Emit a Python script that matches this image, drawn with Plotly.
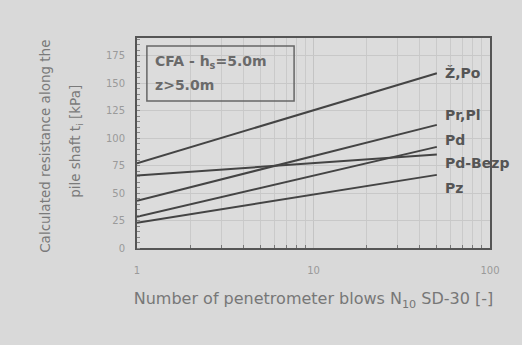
import plotly.graph_objects as go

# Data: straight lines on log-x, from N=1 to N=50
n_blows = [1, 50]
series_names = ["Ž,Po", "Pr,Pl", "Pd", "Pd-Bezp", "Pz"]
zpo = [77, 159]
prpl = [43, 112]
pd_ = [28.5, 92]
pd_bezp = [66, 85]
pz = [23, 66.5]
series_values = [zpo, prpl, pd_, pd_bezp, pz]

# vertical positions of the series labels (kPa scale)
label_y = [159, 121, 98, 77, 55]

y_ticks = [0, 25, 50, 75, 100, 125, 150, 175]
x_ticks = [1, 10, 100]
x_minor = [2, 3, 4, 5, 6, 7, 8, 9, 20, 30, 40, 50, 60, 70, 80, 90]

line_col = "#444444"
txt_col = "#555555"
bg = "#d9d9d9"

fig = go.Figure()
for name, vals, ly in zip(series_names, series_values, label_y):
    fig.add_trace(go.Scatter(x=n_blows, y=vals, mode="lines", name=name,
                             line=dict(color=line_col, width=2), showlegend=False,
                             cliponaxis=False))
    fig.add_annotation(x=1.72, y=ly, xref="x", yref="y", text="<b>" + name + "</b>",
                       showarrow=False, xanchor="left", yanchor="middle",
                       xshift=2,
                       font=dict(family="DejaVu Sans", size=14, color=txt_col))

# info box
fig.add_shape(type="rect", xref="paper", yref="paper", x0=0.028, x1=0.445, y0=0.70, y1=0.962,
              line=dict(color="#666", width=1.5), fillcolor="rgba(0,0,0,0)")
fig.add_annotation(xref="paper", yref="paper", x=0.045, y=0.886, xanchor="left", yanchor="middle",
                   text="<b>CFA - h<sub>s</sub>=5.0m</b>", showarrow=False,
                   font=dict(family="DejaVu Sans", size=14, color="#6a6a6a"))
fig.add_annotation(xref="paper", yref="paper", x=0.045, y=0.776, xanchor="left", yanchor="middle",
                   text="<b>z>5.0m</b>", showarrow=False,
                   font=dict(family="DejaVu Sans", size=14, color="#6a6a6a"))

# y title (two lines)
fig.add_annotation(xref="paper", yref="paper", x=-0.261, y=0.486,
                   xanchor="center", yanchor="middle",
                   text="Calculated resistance along the", textangle=-90,
                   showarrow=False, font=dict(family="DejaVu Sans", size=13.5, color="#7a7a7a"))
fig.add_annotation(xref="paper", yref="paper", x=-0.173, y=0.51,
                   xanchor="center", yanchor="middle",
                   text="pile shaft t<sub>i</sub> [kPa]", textangle=-90,
                   showarrow=False, font=dict(family="DejaVu Sans", size=13.5, color="#7a7a7a"))

fig.update_layout(
    width=522, height=345,
    margin=dict(l=137, r=32, t=38, b=97),
    paper_bgcolor=bg, plot_bgcolor="#dcdcdc",
    xaxis=dict(type="log", range=[0, 2], tickvals=x_ticks, ticktext=["1", "10", "100"],
               showline=True, linecolor="#555", linewidth=2, mirror=True,
               showgrid=True, gridcolor="#c4c4c4", gridwidth=1,
               minor=dict(tickvals=x_minor, showgrid=True, gridcolor="#cacaca",
                          ticks="inside", ticklen=3, tickcolor="#777"),
               ticks="", ticklabelstandoff=12,
               tickfont=dict(family="DejaVu Sans", size=10, color="#9a9a9a"),
               title=dict(text="Number of penetrometer blows N<sub>10</sub> SD-30 [-]", standoff=18,
                          font=dict(family="DejaVu Sans", size=16, color="#777")),
               zeroline=False),
    yaxis=dict(range=[0, 191], tickvals=y_ticks,
               showline=True, linecolor="#555", linewidth=2, mirror=True,
               showgrid=True, gridcolor="#c8c8c8", gridwidth=1,
               minor=dict(dtick=5, ticks="inside", ticklen=3, tickcolor="#888", showgrid=False),
               ticks="", ticklabelstandoff=8,
               tickfont=dict(family="DejaVu Sans", size=10, color="#9a9a9a"),
               zeroline=False),
)

fig.write_html("out.html")
